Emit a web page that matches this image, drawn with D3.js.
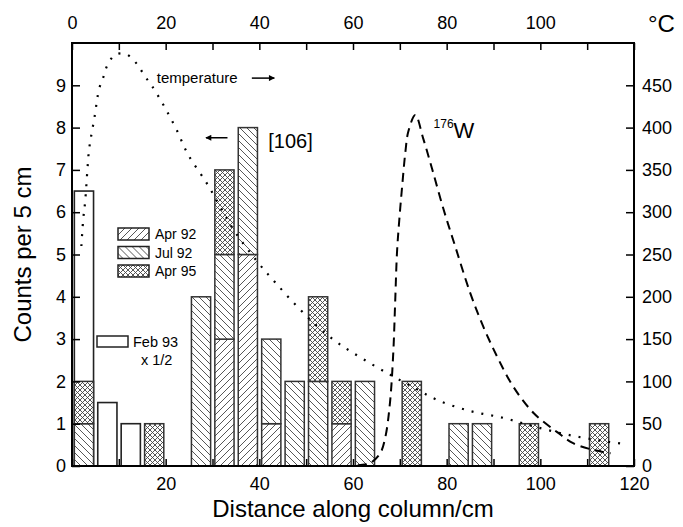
<!DOCTYPE html>
<html>
<head>
<meta charset="utf-8">
<script src="https://cdn.jsdelivr.net/npm/d3@7/dist/d3.min.js"></script>
<style>
body { margin: 0; background: #fff; }
svg { font-family: Arial, "Liberation Sans", sans-serif; }
</style>
</head>
<body>
<svg id="chart" width="683" height="527"></svg>
<script>
// bins of 5 cm, counts per bin (Feb 93 already halved)
var binStart = [0,5,10,15,20,25,30,35,40,45,50,55,60,65,70,75,80,85,90,95,100,105,110,115]
var apr92 = [0,0,0,0,0,0,3,5,1,0,0,1,0,0,0,0,0,0,0,0,0,0,0,0]
var jul92 = [1,0,0,0,0,4,2,3,2,2,2,0,2,0,0,0,1,1,0,0,0,0,0,0]
var apr95 = [1,0,0,1,0,0,2,0,0,0,2,1,0,0,2,0,0,0,0,1,0,0,1,0]
var feb93 = [6.5,1.5,1,0,0,0,0,0,0,0,0,0,0,0,0,0,0,0,0,0,0,0,0,0]

// temperature profile (degC) along the column
var tempX = [2,2.4,2.8,3.3,3.6,4,4.8,5.8,6.6,7.5,9.2,11.5,13.9,15.4,17.1,19.7,22.2,24.8,28.8,31.6,34.4,39.5,43.4,48,52.4,56.9,62,67.9,72.9,78,85,92,98.5,105.8,112.8,118]
var tempC = [260,292,312,351,372,387,412,446,458,473,486,487,475,462,449,425,399,368,334,307,280,242,217,189,165,145,127,108,93,78,65,57,47,37,30,26]

// 176W profile, drawn on the degC scale
var wX = [61,63.5,65.8,66.9,67.9,68.6,69,69.4,69.9,70.5,71.2,71.8,73.3,75,76.9,79.3,81.8,85,87.8,90.8,94.2,98.5,103.6,107,111.3,115]
var wY = [1,3,15,34,75,134,193,253,292,331,372,395,415,387,351,304,260,205,165,129,94,63,40,27,19,15]

var xTicksTop = [0,20,40,60,80,100]
var xTicksBottom = [20,40,60,80,100,120]
var yTicksLeft = [0,1,2,3,4,5,6,7,8,9]
var yTicksRight = [0,50,100,150,200,250,300,350,400,450]

var svg = d3.select('#chart')
var pL = 72, pR = 634, pT = 43, pB = 466

var x = d3.scaleLinear().domain([0,120]).range([pL, pR])
var y = d3.scaleLinear().domain([0,10]).range([pB, pT])
var yT = d3.scaleLinear().domain([0,500]).range([pB, pT])

// hatch patterns
var defs = svg.append('defs')
function hatch(id, dirs, step)
{
	var p = defs.append('pattern').attr('id', id)
		.attr('patternUnits', 'userSpaceOnUse')
		.attr('width', step).attr('height', step)
	p.append('rect').attr('width', step).attr('height', step).attr('fill', '#fff')
	dirs.forEach(function(a)
	{
		var s = step
		p.append('path')
			.attr('d', a > 0
				? 'M0,' + s + 'L' + s + ',0M-1,1L1,-1M' + (s - 1) + ',' + (s + 1) + 'L' + (s + 1) + ',' + (s - 1)
				: 'M0,0L' + s + ',' + s + 'M-1,' + (s - 1) + 'L1,' + (s + 1) + 'M' + (s - 1) + ',-1L' + (s + 1) + ',1')
			.attr('stroke', '#444').attr('stroke-width', 0.9)
	})
}
hatch('h-apr92', [1], 7)
hatch('h-jul92', [-1], 7)
hatch('h-apr95', [1, -1], 5)

defs.append('marker')
	.attr('id', 'arr')
	.attr('viewBox', '0 -5 10 10')
	.attr('refX', 9)
	.attr('markerWidth', 9)
	.attr('markerHeight', 6)
	.attr('markerUnits', 'userSpaceOnUse')
	.attr('orient', 'auto')
	.append('path')
	.attr('d', 'M0,-5L10,0L0,5Z')
	.attr('fill', '#000')

// bars
var barOff = 0.5, barW = 4.1
var rows = binStart.map(function(b, i)
{
	return {bin: b, apr92: apr92[i], jul92: jul92[i], apr95: apr95[i], feb93: feb93[i]}
})

svg.append('g').selectAll('rect')
	.data(rows.filter(function(d){ return d.feb93 > 0 }))
	.enter().append('rect')
	.attr('x', function(d){ return x(d.bin + barOff) })
	.attr('width', function(d){ return x(d.bin + barOff + barW) - x(d.bin + barOff) })
	.attr('y', function(d){ return y(d.feb93) })
	.attr('height', function(d){ return y(0) - y(d.feb93) })
	.attr('fill', '#fff').attr('stroke', '#222').attr('stroke-width', 1.6)

var keys = ['apr92', 'jul92', 'apr95']
var stacked = d3.stack().keys(keys)(rows)
svg.append('g').selectAll('g')
	.data(stacked)
	.enter().append('g')
	.attr('fill', function(d){ return 'url(#h-' + d.key + ')' })
	.selectAll('rect')
	.data(function(d){ return d.filter(function(s){ return s[1] > s[0] }) })
	.enter().append('rect')
	.attr('x', function(d){ return x(d.data.bin + barOff) })
	.attr('width', function(d){ return x(d.data.bin + barOff + barW) - x(d.data.bin + barOff) })
	.attr('y', function(d){ return y(d[1]) })
	.attr('height', function(d){ return y(d[0]) - y(d[1]) })
	.attr('stroke', '#333').attr('stroke-width', 1.5)

// curves
var tLine = d3.line().curve(d3.curveCatmullRom)
	.x(function(d){ return x(d[0]) }).y(function(d){ return yT(d[1]) })
svg.append('path')
	.attr('d', tLine(tempX.map(function(v, i){ return [v, tempC[i]] })))
	.attr('fill', 'none').attr('stroke', '#000').attr('stroke-width', 2.2)
	.attr('stroke-dasharray', '2,8')
svg.append('path')
	.attr('d', tLine(wX.map(function(v, i){ return [v, wY[i]] })))
	.attr('fill', 'none').attr('stroke', '#000').attr('stroke-width', 2)
	.attr('stroke-dasharray', '9,6')

// axes
function styleAxis(g)
{
	g.attr('font-family', null)
	g.select('.domain').remove()
	g.selectAll('line').attr('stroke', '#000').attr('stroke-width', 1.5)
	g.selectAll('text').attr('font-size', 18).attr('fill', '#000')
}
svg.append('g').attr('transform', 'translate(0,' + pT + ')')
	.call(d3.axisTop(x).tickValues(d3.range(0, 121, 10)).tickSize(-7).tickPadding(14)
		.tickFormat(function(d){ return xTicksTop.indexOf(d) >= 0 ? d : '' }))
	.call(styleAxis)
svg.append('g').attr('transform', 'translate(0,' + pB + ')')
	.call(d3.axisBottom(x).tickValues(d3.range(0, 121, 10)).tickSize(-7).tickPadding(11)
		.tickFormat(function(d){ return xTicksBottom.indexOf(d) >= 0 ? d : '' }))
	.call(styleAxis)
svg.append('g').attr('transform', 'translate(' + pL + ',0)')
	.call(d3.axisLeft(y).tickValues(yTicksLeft).tickSize(-8).tickPadding(6))
	.call(styleAxis)
svg.append('g').attr('transform', 'translate(' + pR + ',0)')
	.call(d3.axisRight(yT).tickValues(yTicksRight).tickSize(-8).tickPadding(8))
	.call(styleAxis)

svg.append('rect')
	.attr('x', pL).attr('y', pT)
	.attr('width', pR - pL).attr('height', pB - pT)
	.attr('fill', 'none').attr('stroke', '#000').attr('stroke-width', 2)

// titles
svg.append('text')
	.attr('transform', 'translate(31,' + ((pT + pB) / 2) + ') rotate(-90)')
	.attr('text-anchor', 'middle').attr('font-size', 24)
	.text('Counts per 5 cm')
svg.append('text')
	.attr('x', (pL + pR) / 2).attr('y', 517)
	.attr('text-anchor', 'middle').attr('font-size', 24)
	.text('Distance along column/cm')
svg.append('text')
	.attr('x', 648).attr('y', 32).attr('font-size', 24)
	.text('\u00b0C')

// annotations
svg.append('text')
	.attr('x', x(18.1)).attr('y', y(9.05)).attr('font-size', 15)
	.text('temperature')
svg.append('line')
	.attr('x1', x(38.4)).attr('y1', y(9.17)).attr('x2', x(43.2)).attr('y2', y(9.17))
	.attr('stroke', '#000').attr('stroke-width', 1.5).attr('marker-end', 'url(#arr)')
svg.append('line')
	.attr('x1', x(33.2)).attr('y1', y(7.76)).attr('x2', x(28.6)).attr('y2', y(7.76))
	.attr('stroke', '#000').attr('stroke-width', 1.5).attr('marker-end', 'url(#arr)')
svg.append('text')
	.attr('x', x(41.9)).attr('y', y(7.52)).attr('font-size', 20)
	.text('[106]')
var wl = svg.append('text').attr('x', x(77.2)).attr('y', y(7.75)).attr('font-size', 22)
wl.append('tspan').attr('font-size', 12).attr('dy', -10).text('176')
wl.append('tspan').attr('dy', 10).text('W')

// legend
var legItems = [['h-apr92', 'Apr 92'], ['h-jul92', 'Jul 92'], ['h-apr95', 'Apr 95']]
var leg = svg.append('g').attr('transform', 'translate(118,228)')
leg.selectAll('g').data(legItems).enter().append('g')
	.attr('transform', function(d, i){ return 'translate(0,' + (i * 18.5) + ')' })
	.each(function(d)
	{
		var g = d3.select(this)
		g.append('rect').attr('width', 31).attr('height', 12)
			.attr('fill', 'url(#' + d[0] + ')').attr('stroke', '#222').attr('stroke-width', 1.5)
		g.append('text').attr('x', 37).attr('y', 11).attr('font-size', 14).text(d[1])
	})
var leg2 = svg.append('g').attr('transform', 'translate(97,336)')
leg2.append('rect').attr('width', 31).attr('height', 11)
	.attr('fill', '#fff').attr('stroke', '#222').attr('stroke-width', 1.5)
leg2.append('text').attr('x', 36).attr('y', 11).attr('font-size', 14.5).text('Feb 93')
leg2.append('text').attr('x', 44).attr('y', 29).attr('font-size', 14.5).text('x 1/2')
</script>
</body>
</html>
